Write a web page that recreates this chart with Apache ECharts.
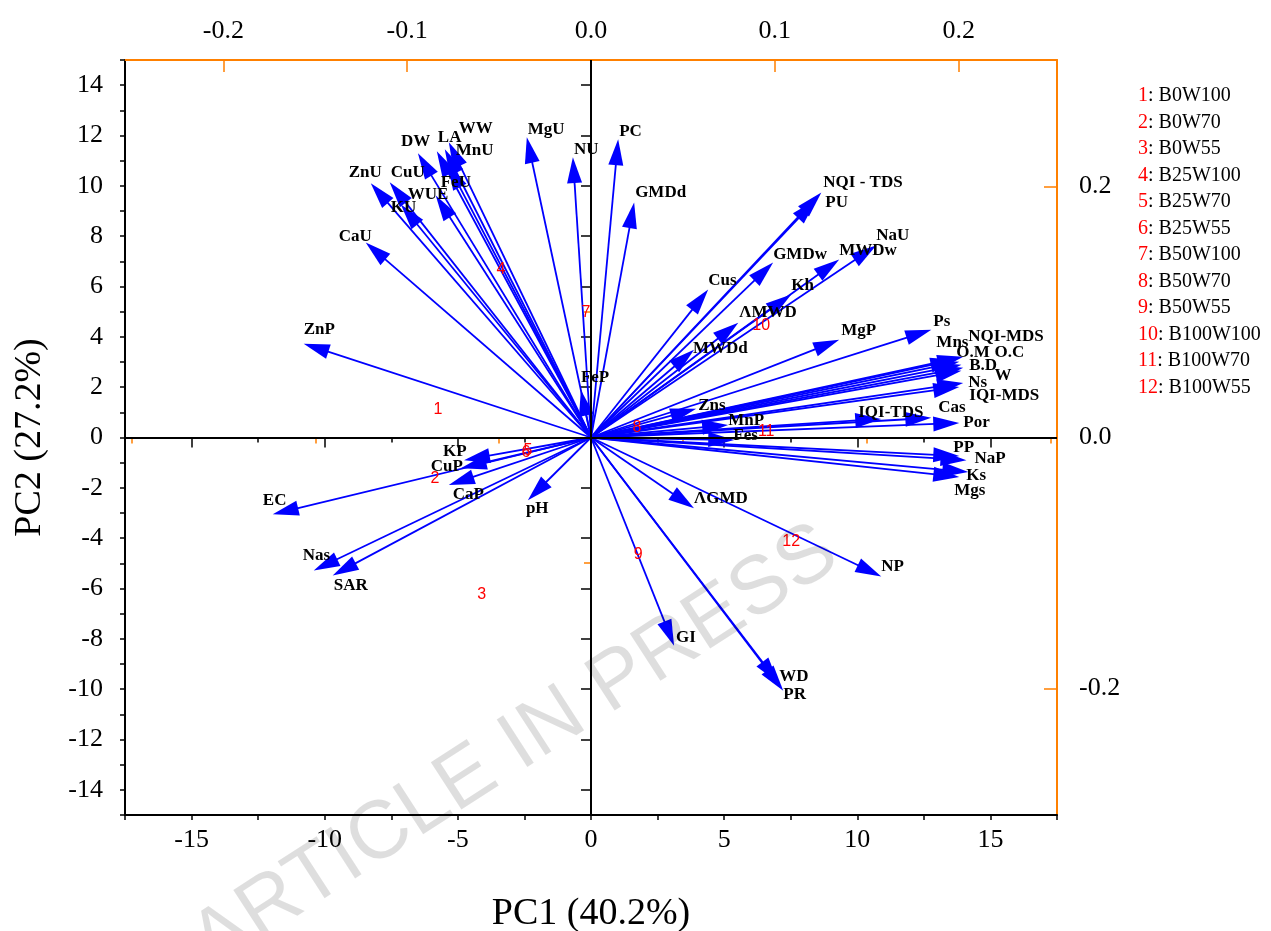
<!DOCTYPE html>
<html>
<head>
<meta charset="utf-8">
<script src="https://cdn.jsdelivr.net/npm/echarts@6/dist/echarts.min.js"></script>
<style>
  html, body { margin: 0; padding: 0; background: #fff; }
  #biplot { width: 1271px; height: 931px; }
</style>
</head>
<body>
<div id="biplot"></div>
<script>
// variable loadings (scaled to PC scores)
const varNames = ['CaU', 'ZnU', 'CuU', 'KU', 'WUE', 'DW', 'LA', 'WW', 'MnU', 'FeU',
  'MgU', 'NU', 'PC', 'GMDd', 'NQI - TDS', 'PU', 'GMDw', 'Cus', 'NaU', 'MWDw',
  'Kh', 'ΛMWD', 'MWDd', 'FeP', 'Zns', 'MnP', 'Fes', 'MgP', 'Ps', 'NQI-MDS',
  'Mns', 'O.M', 'O.C', 'B.D', 'W', 'Ns', 'IQI-MDS', 'Cas', 'Por', 'IQI-TDS',
  'PP', 'NaP', 'Ks', 'Mgs', 'ΛGMD', 'NP', 'GI', 'WD', 'PR', 'pH',
  'KP', 'CuP', 'CaP', 'EC', 'Nas', 'SAR', 'ZnP']
const varPC1 = [-8.46, -8.27, -7.56, -7.14, -5.83, -6.50, -5.79, -5.34, -5.49, -5.38,
  -2.41, -0.68, 1.02, 1.62, 8.65, 8.46, 6.84, 4.40, 10.71, 9.32,
  7.52, 5.53, 3.87, -0.38, 3.95, 5.15, 5.38, 9.32, 12.78, 13.98,
  13.72, 13.83, 13.91, 13.98, 13.91, 13.98, 13.83, 12.78, 13.83, 10.90,
  13.83, 14.10, 14.17, 13.83, 3.87, 10.90, 3.12, 7.03, 7.22, -2.37,
  -4.77, -4.89, -5.34, -11.95, -10.41, -9.70, -10.79]
const varPC2 = [7.75, 10.10, 10.14, 9.26, 9.62, 11.29, 11.37, 11.73, 11.45, 10.86,
  11.93, 11.14, 11.85, 9.34, 9.74, 9.46, 6.95, 5.88, 7.63, 7.07,
  5.68, 4.56, 3.49, 1.89, 1.14, 0.50, -0.10, 3.88, 4.28, 3.21,
  3.09, 3.01, 2.89, 2.77, 2.65, 2.17, 2.01, 0.78, 0.58, 0.74,
  -0.74, -0.90, -1.37, -1.57, -2.81, -5.52, -8.27, -9.74, -10.06, -2.49,
  -0.90, -1.22, -1.89, -3.05, -5.28, -5.48, 3.73]

// treatment scores
const sampleIds = ['1', '2', '3', '4', '5', '6', '7', '8', '9', '10', '11', '12']
const samplePC1 = [-5.75, -5.86, -4.10, -3.38, -2.37, -2.44, -0.19, 1.73, 1.77, 6.39, 6.58, 7.52]
const samplePC2 = [1.10, -1.65, -6.24, 6.67, -0.54, -0.58, 4.96, 0.38, -4.64, 4.44, 0.22, -4.12]
const treatments = ['B0W100', 'B0W70', 'B0W55', 'B25W100', 'B25W70', 'B25W55',
  'B50W100', 'B50W70', 'B50W55', 'B100W100', 'B100W70', 'B100W55']

// tick values
const pcXMajor = [-15, -10, -5, 0, 5, 10, 15]
const pcYMajor = [-14, -12, -10, -8, -6, -4, -2, 0, 2, 4, 6, 8, 10, 12, 14]
const loadXMajor = [-0.2, -0.1, 0, 0.1, 0.2]
const loadXMinor = [-0.25, -0.15, -0.05, 0.05, 0.15, 0.25]
const loadYMajor = [-0.2, 0, 0.2]
const loadYMinor = [-0.1, 0.1]
const topMirrorTicks = [-12.5, -7.5, -2.5, 2.5, 7.5, 12.5]

// label nudges in pixels from the arrow tip (layout only)
const labelNudge = {
  'CaU': [-27, -6], 'ZnU': [-22, -11], 'CuU': [1, -10], 'KU': [-10, 3], 'WUE': [-28, -1],
  'DW': [-17, -12], 'LA': [1, -14], 'WW': [10, -14], 'MnU': [11, 1], 'FeU': [-7, 18],
  'MgU': [1, -8], 'NU': [1, -8], 'PC': [1, -8], 'GMDd': [1, -10], 'NQI - TDS': [2, -10],
  'PU': [9, 3], 'GMDw': [0, -8], 'Cus': [0, -9], 'NaU': [0, -10], 'MWDw': [0, -9],
  'Kh': [0, -9], 'ΛMWD': [1, -10], 'MWDd': [-1, -1], 'FeP': [0, -12], 'Zns': [2, -3],
  'MnP': [0, -4], 'Fes': [-1, -4], 'MgP': [2, -9], 'Ps': [2, -8], 'NQI-MDS': [5, -20],
  'Mns': [-20, -17], 'O.M': [-3, -9], 'O.C': [33, -12], 'B.D': [6, -2], 'W': [33, 5],
  'Ns': [5, 0], 'IQI-MDS': [10, 9], 'Cas': [7, -10], 'Por': [4, 0], 'IQI-TDS': [-23, -6],
  'PP': [-6, -9], 'NaP': [8, -2], 'Ks': [-2, 4], 'Mgs': [-5, 14], 'ΛGMD': [0, -10],
  'NP': [0, -10], 'GI': [2, -8], 'WD': [1, -6], 'PR': [0, 4], 'pH': [-2, 8],
  'KP': [-21, -9], 'CuP': [-30, -2], 'CaP': [4, 10], 'EC': [-10, -14], 'Nas': [-11, -15],
  'SAR': [1, 10], 'ZnP': [0, -14]
}

const SERIF = '"Liberation Serif", "Times New Roman", serif'
const ORANGE = '#ff8000'
const BLUE = '#0000ff'

const arrowData = varNames.map((n, i) => [varPC1[i], varPC2[i], n])
const sampleData = sampleIds.map((n, i) => [samplePC1[i], samplePC2[i], n])

function renderArrow(params, api) {
  const p0 = api.coord([0, 0])
  const p1 = api.coord([api.value(0), api.value(1)])
  const dx = p1[0] - p0[0], dy = p1[1] - p0[1]
  const len = Math.sqrt(dx * dx + dy * dy)
  const ux = dx / len, uy = dy / len
  const hl = 26, hw = 7.5
  const bx = p1[0] - ux * hl, by = p1[1] - uy * hl
  return {
    type: 'group',
    children: [
      { type: 'line', shape: { x1: p0[0], y1: p0[1], x2: bx + ux * 2, y2: by + uy * 2 },
        style: { stroke: BLUE, lineWidth: 1.8 } },
      { type: 'polygon', shape: { points: [p1, [bx - uy * hw, by + ux * hw], [bx + uy * hw, by - ux * hw]] },
        style: { fill: BLUE } }
    ]
  }
}

function renderVarLabel(params, api) {
  const name = arrowData[params.dataIndex][2]
  const p1 = api.coord([api.value(0), api.value(1)])
  const nd = labelNudge[name] || [2, -8]
  return {
    type: 'text', x: p1[0] + nd[0], y: p1[1] + nd[1],
    style: { text: name, font: 'bold 17px ' + SERIF, fill: '#000', align: 'left', verticalAlign: 'middle' }
  }
}

function renderSample(params, api) {
  const p = api.coord([api.value(0), api.value(1)])
  return {
    type: 'text', x: p[0], y: p[1],
    style: { text: sampleData[params.dataIndex][2], font: '16px "Liberation Sans", Arial, sans-serif',
      fill: '#ff0000', align: 'center', verticalAlign: 'middle' }
  }
}

const tickFont = { color: '#000', fontFamily: SERIF, fontSize: 26 }

const legendItems = treatments.map((t, i) => ({
  type: 'text', left: 1138, top: 86 + i * 26.5,
  style: { text: '{r|' + sampleIds[i] + '}{k|: ' + t + '}',
    rich: { r: { fill: '#ff0000', font: '20px ' + SERIF }, k: { fill: '#000', font: '20px ' + SERIF } } }
}))

const chart = echarts.init(document.getElementById('biplot'))
chart.setOption({
  animation: false,
  backgroundColor: '#fff',
  grid: { left: 125, right: 214, top: 60, bottom: 116, containLabel: false, outerBoundsMode: 'none' },
  xAxis: [
    {
      type: 'value', position: 'bottom', min: -17.5, max: 17.5, interval: 2.5,
      axisLine: { onZero: false, lineStyle: { color: '#000', width: 2 } },
      axisTick: { length: 5, lineStyle: { color: '#000', width: 1.5 } },
      axisLabel: Object.assign({ margin: 12, formatter: v => (v % 5 === 0 ? String(v) : '') }, tickFont),
      splitLine: { show: false },
      name: 'PC1 (40.2%)', nameLocation: 'middle', nameGap: 80,
      nameTextStyle: { color: '#000', fontFamily: SERIF, fontSize: 38 }
    },
    {
      type: 'value', position: 'top', min: -0.2535, max: 0.2535,
      axisLine: { onZero: false, lineStyle: { color: ORANGE, width: 2 } },
      axisTick: { inside: true, length: 12, customValues: loadXMajor, lineStyle: { color: ORANGE, width: 1.5 } },
      axisLabel: Object.assign({ margin: 16, customValues: loadXMajor, formatter: v => v.toFixed(1) }, tickFont),
      splitLine: { show: false }
    },
    {
      type: 'value', position: 'bottom', min: -17.5, max: 17.5,
      axisLine: { show: false }, axisLabel: { show: false }, splitLine: { show: false },
      axisTick: { length: 10, customValues: pcXMajor, lineStyle: { color: '#000', width: 1.5 } }
    },
    {
      type: 'value', position: 'top', min: -0.2535, max: 0.2535,
      axisLine: { show: false }, axisLabel: { show: false }, splitLine: { show: false },
      axisTick: { inside: true, length: 6, customValues: loadXMinor, lineStyle: { color: ORANGE, width: 1.5 } }
    },
    {
      type: 'value', position: 'top', min: -17.5, max: 17.5,
      axisLine: { show: false }, axisLabel: { show: false }, splitLine: { show: false },
      axisTick: { inside: true, length: 5, customValues: topMirrorTicks, lineStyle: { color: '#000', width: 1.5 } }
    }
  ],
  yAxis: [
    {
      type: 'value', position: 'left', min: -15, max: 15, interval: 1,
      axisLine: { onZero: false, lineStyle: { color: '#000', width: 2 } },
      axisTick: { length: 5, lineStyle: { color: '#000', width: 1.5 } },
      axisLabel: Object.assign({ margin: 22, formatter: v => (v % 2 === 0 ? String(v) : '') }, tickFont),
      splitLine: { show: false },
      name: 'PC2 (27.2%)', nameLocation: 'middle', nameGap: 76, nameRotate: 90,
      nameTextStyle: { color: '#000', fontFamily: SERIF, fontSize: 38 }
    },
    {
      type: 'value', position: 'right', min: -0.301, max: 0.301,
      axisLine: { onZero: false, lineStyle: { color: ORANGE, width: 2 } },
      axisTick: { inside: true, length: 13, customValues: loadYMajor, lineStyle: { color: ORANGE, width: 1.5 } },
      axisLabel: Object.assign({ margin: 22, customValues: loadYMajor, formatter: v => v.toFixed(1) }, tickFont),
      splitLine: { show: false }
    },
    {
      type: 'value', position: 'left', min: -15, max: 15,
      axisLine: { show: false }, axisLabel: { show: false }, splitLine: { show: false },
      axisTick: { length: 10, customValues: pcYMajor, lineStyle: { color: '#000', width: 1.5 } }
    },
    {
      type: 'value', position: 'right', min: -0.301, max: 0.301,
      axisLine: { show: false }, axisLabel: { show: false }, splitLine: { show: false },
      axisTick: { inside: true, length: 7, customValues: loadYMinor, lineStyle: { color: ORANGE, width: 1.5 } }
    }
  ],
  series: [
    {
      type: 'custom', name: 'loadings', xAxisIndex: 0, yAxisIndex: 0,
      data: arrowData, renderItem: renderArrow, z: 3, silent: true,
      markLine: {
        silent: true, symbol: 'none', label: { show: false },
        lineStyle: { color: '#000', width: 2, type: 'solid' },
        data: [{ xAxis: 0 }, { yAxis: 0 }]
      }
    },
    {
      type: 'custom', name: 'samples', xAxisIndex: 0, yAxisIndex: 0,
      data: sampleData, renderItem: renderSample, z: 4, silent: true
    },
    {
      type: 'custom', name: 'labels', xAxisIndex: 0, yAxisIndex: 0,
      data: arrowData, renderItem: renderVarLabel, z: 5, silent: true
    }
  ],
  graphic: legendItems.concat([
    {
      type: 'text', x: 515, y: 748, rotation: 0.574, z: 100, silent: true,
      style: { text: 'ARTICLE IN PRESS', font: '82px "Liberation Sans", Arial, sans-serif',
        fill: 'rgba(0,0,0,0.13)', align: 'center', verticalAlign: 'middle' }
    }
  ])
})
</script>
</body>
</html>
